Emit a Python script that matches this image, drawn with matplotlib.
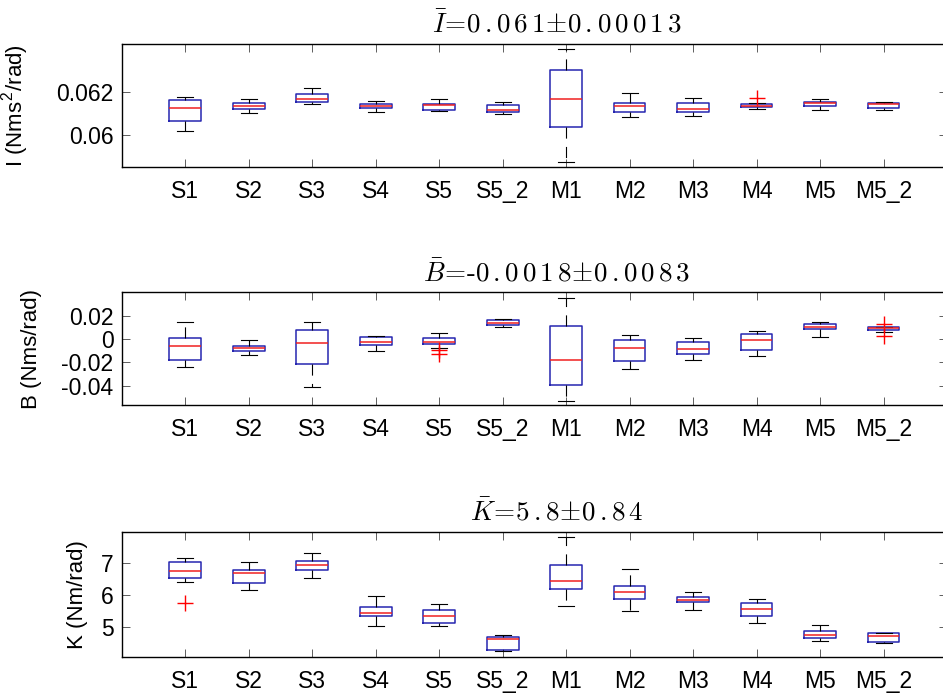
import matplotlib
matplotlib.use("Agg")
import matplotlib.pyplot as plt

plt.rcParams["font.family"] = ["Liberation Sans", "DejaVu Sans"]
plt.rcParams["mathtext.fontset"] = "cm"
plt.rcParams["lines.scale_dashes"] = False

labels = ["S1", "S2", "S3", "S4", "S5", "S5_2", "M1", "M2", "M3", "M4", "M5", "M5_2"]

# inertia I (Nms^2/rad): whisker low, q1, median, q3, whisker high, outliers
I_wlo = [0.06017, 0.06103, 0.06145, 0.06106, 0.06114, 0.06100,
         0.05875, 0.06083, 0.06090, 0.06122, 0.06117, 0.06119]
I_q1 = [0.06067, 0.06122, 0.06153, 0.06125, 0.06119, 0.06106,
        0.06038, 0.06106, 0.06108, 0.06130, 0.06134, 0.06128]
I_med = [0.06128, 0.06137, 0.06170, 0.06134, 0.06141, 0.06119,
         0.06170, 0.06136, 0.06123, 0.06137, 0.06148, 0.06147]
I_q3 = [0.06163, 0.06148, 0.06193, 0.06147, 0.06147, 0.06142,
        0.06306, 0.06151, 0.06151, 0.06145, 0.06156, 0.06151]
I_whi = [0.06177, 0.06167, 0.06219, 0.06158, 0.06169, 0.06156,
         0.06401, 0.06198, 0.06172, 0.06148, 0.06167, 0.06156]
I_out = [[], [], [], [], [], [], [], [], [], [0.06172], [], []]

# damping B (Nms/rad)
B_wlo = [-0.0242, -0.0134, -0.0407, -0.0103, -0.0077, 0.0105,
         -0.0530, -0.0256, -0.0177, -0.0143, 0.0020, 0.0063]
B_q1 = [-0.0182, -0.0100, -0.0217, -0.0054, -0.0040, 0.0120,
        -0.0393, -0.0188, -0.0131, -0.0097, 0.0083, 0.0074]
B_med = [-0.0062, -0.0080, -0.0037, -0.0023, -0.0023, 0.0137,
         -0.0177, -0.0074, -0.0088, -0.0011, 0.0100, 0.0094]
B_q3 = [0.0011, -0.0062, 0.0074, 0.0014, 0.0006, 0.0160,
        0.0114, -0.0011, -0.0028, 0.0043, 0.0131, 0.0100]
B_whi = [0.0148, -0.0009, 0.0145, 0.0028, 0.0051, 0.0168,
         0.0353, 0.0034, 0.0009, 0.0068, 0.0148, 0.0101]
B_out = [[], [], [], [], [-0.0095, -0.0125], [], [], [], [], [], [],
         [0.0131, 0.0023]]

# stiffness K (Nm/rad)
K_wlo = [6.41, 6.16, 6.54, 5.04, 5.04, 4.25, 5.66, 5.51, 5.54, 5.12, 4.57, 4.50]
K_q1 = [6.54, 6.38, 6.78, 5.34, 5.12, 4.29, 6.19, 5.89, 5.78, 5.34, 4.68, 4.55]
K_med = [6.74, 6.70, 6.93, 5.44, 5.35, 4.62, 6.44, 6.11, 5.85, 5.58, 4.75, 4.74]
K_q3 = [7.02, 6.79, 7.07, 5.64, 5.53, 4.70, 6.94, 6.28, 5.93, 5.77, 4.89, 4.83]
K_whi = [7.16, 7.04, 7.31, 5.96, 5.73, 4.77, 7.80, 6.80, 6.10, 5.88, 5.08, 4.83]
K_out = [[5.76], [], [], [], [], [], [], [], [], [], [], []]


def sp(s):
    # loose digit spacing as in the latex-rendered titles
    out = ""
    for i, ch in enumerate(s):
        out += ch
        if i < len(s) - 1 and ch != ".":
            out += r"\,"
    return out


t_I = r"$\bar{I}\!=\!" + sp("0.061") + r"\!\pm\!" + sp("0.00013") + "$"
t_B = r"$\bar{B}\!=\!\text{-}" + sp("0.0018") + r"\!\pm\!" + sp("0.0083") + "$"
t_K = r"$\bar{K}\!=\!" + sp("5.8") + r"\!\pm\!" + sp("0.84") + "$"

panels = [
    (I_wlo, I_q1, I_med, I_q3, I_whi, I_out, t_I,
     r"I (Nms$^\mathregular{2}$/rad)", (0.0585, 0.06426), [0.06, 0.062], ["0.06", "0.062"]),
    (B_wlo, B_q1, B_med, B_q3, B_whi, B_out, t_B,
     "B (Nms/rad)", (-0.0564, 0.0399), [-0.04, -0.02, 0, 0.02], ["-0.04", "-0.02", "0", "0.02"]),
    (K_wlo, K_q1, K_med, K_q3, K_whi, K_out, t_K,
     "K (Nm/rad)", (4.067, 7.974), [5, 6, 7], ["5", "6", "7"]),
]

# axes rectangles [left, bottom, width, height] and y-label x position
rects = [
    [0.1291, 0.7604, 0.8752, 0.1765],
    [0.1291, 0.4189, 0.8752, 0.1617],
    [0.1291, 0.0570, 0.8752, 0.1802],
]
ylab_x = [-0.1087, -0.0966, -0.0408]

fig = plt.figure(figsize=(9.43, 6.97), dpi=100)

for rect, lx, (wlo, q1, med, q3, whi, out, title, ylabel, ylim, yt, ytl) in zip(rects, ylab_x, panels):
    ax = fig.add_axes(rect)
    stats = []
    for i in range(len(labels)):
        stats.append(dict(whislo=wlo[i], q1=q1[i], med=med[i], q3=q3[i],
                          whishi=whi[i], fliers=out[i], label=labels[i]))
    ax.bxp(stats, positions=range(1, len(labels) + 1), widths=0.5,
           boxprops=dict(color="#2626b0", linewidth=1.1),
           medianprops=dict(color="#f02020", linewidth=1.1),
           whiskerprops=dict(color="black", linewidth=0.8, linestyle=(0, (8, 6))),
           capprops=dict(color="black", linewidth=0.8),
           flierprops=dict(marker="+", markeredgecolor="red", markersize=11,
                           markeredgewidth=1.0, linestyle="none"))
    ax.set_xlim(0, 13)
    ax.set_ylim(*ylim)
    ax.set_yticks(yt)
    ax.set_yticklabels(ytl)
    ax.set_title(title, fontsize=19.5, pad=8, x=0.527)
    ax.set_ylabel(ylabel, fontsize=16)
    ax.yaxis.set_label_coords(lx, 0.5)
    ax.tick_params(axis="both", direction="in", length=5.5, width=0.6,
                   top=True, right=True, labelsize=16.5, color="#444444")
    ax.tick_params(axis="x", pad=9)
    ax.tick_params(axis="y", pad=6)
    for s in ax.spines.values():
        s.set_linewidth(1.0)

fig.savefig("out.png", dpi=100)
